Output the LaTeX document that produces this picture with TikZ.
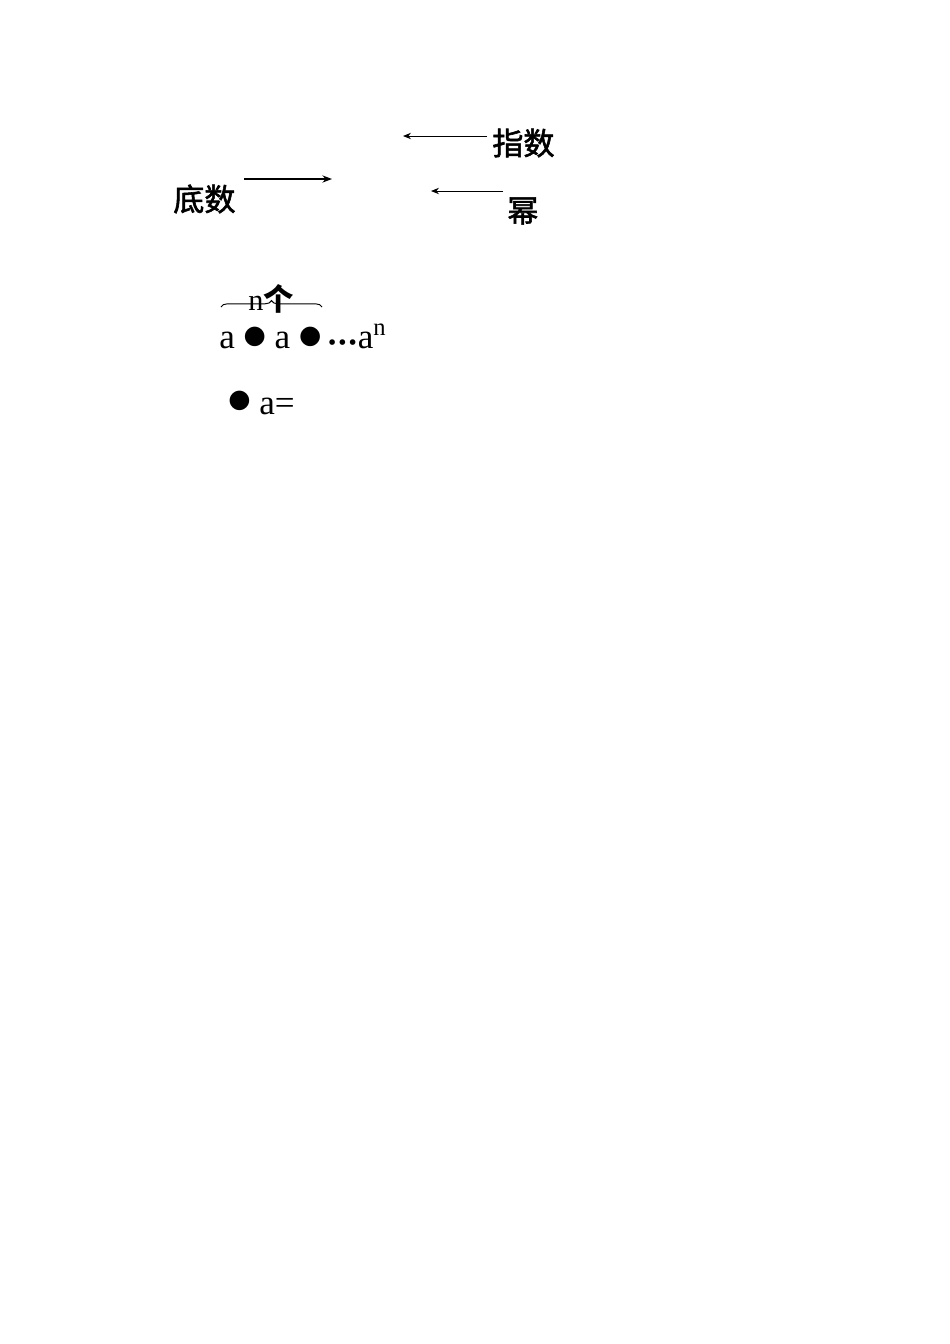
\documentclass[tikz,border=0pt]{standalone}
\usepackage{fontspec}
\setmainfont{Liberation Serif}
\newfontfamily\cjk{Noto Sans CJK SC}
\newfontfamily\dotfont{DejaVu Sans}
\newcommand{\bigdot}[1]{\raisebox{#1}{\dotfont\fontsize{16pt}{18pt}\selectfont ●}}
\newcommand{\heavy}[1]{\special{pdf:literal direct 2 Tr 0.35 w}#1\special{pdf:literal direct 0 Tr}}
\usetikzlibrary{positioning, arrows.meta, decorations.pathreplacing}

\begin{document}
\begin{tikzpicture}[x=0.6266pt, y=-0.6266pt,
		lbl/.style={inner sep=0pt, anchor=west, font=\fontsize{19.5pt}{23pt}\selectfont\cjk},
		formula/.style={inner sep=0pt, anchor=base west, font=\fontsize{22pt}{26pt}\selectfont},
		thin arrow/.style={-{Stealth[length=5pt, width=4pt]}, line width=0.6pt},
		thick arrow/.style={-{Stealth[length=6pt, width=4.5pt]}, line width=1.5pt}]
		\useasboundingbox (0,0) rectangle (950,1344);
		% labels
		\node[lbl] (zhishu) at (492,143) {\heavy{指数}};
		\node[lbl] (dishu) at (173,199) {\heavy{底数}};
		\node[lbl] (mi) at (507,211) {\heavy{幂}};
		% arrow ends
		\coordinate (zs) at (487,136);
		\coordinate (ze) at (403,136);
		\coordinate (ds) at (244,179);
		\coordinate (de) at (332,179);
		\coordinate (ms) at (503,191);
		\coordinate (me) at (431,191);
		% arrows
		\draw[thin arrow] (zs) -- (ze);
		\draw[thick arrow] (ds) -- (de);
		\draw[thin arrow] (ms) -- (me);
		% product of n factors
		\coordinate (bl) at (221,307);
		\coordinate (br) at (322,307);
		\draw[line width=0.6pt, decorate, decoration={brace, amplitude=4pt}] (bl) -- (br);
		\node[inner sep=0pt, anchor=base west, font=\fontsize{19pt}{22pt}\selectfont] (ncount) at (248,310) {n{\cjk\bfseries 个}};
		\node[formula] (prod) at (219,348) {a \bigdot{3pt} a \bigdot{3pt}\,{\dotfont\fontsize{10pt}{12pt}\selectfont\bfseries •••}a\textsuperscript{n}};
		\node[formula] (eq) at (228,414) {\bigdot{4pt} a=};
	\end{tikzpicture}
\end{document}
